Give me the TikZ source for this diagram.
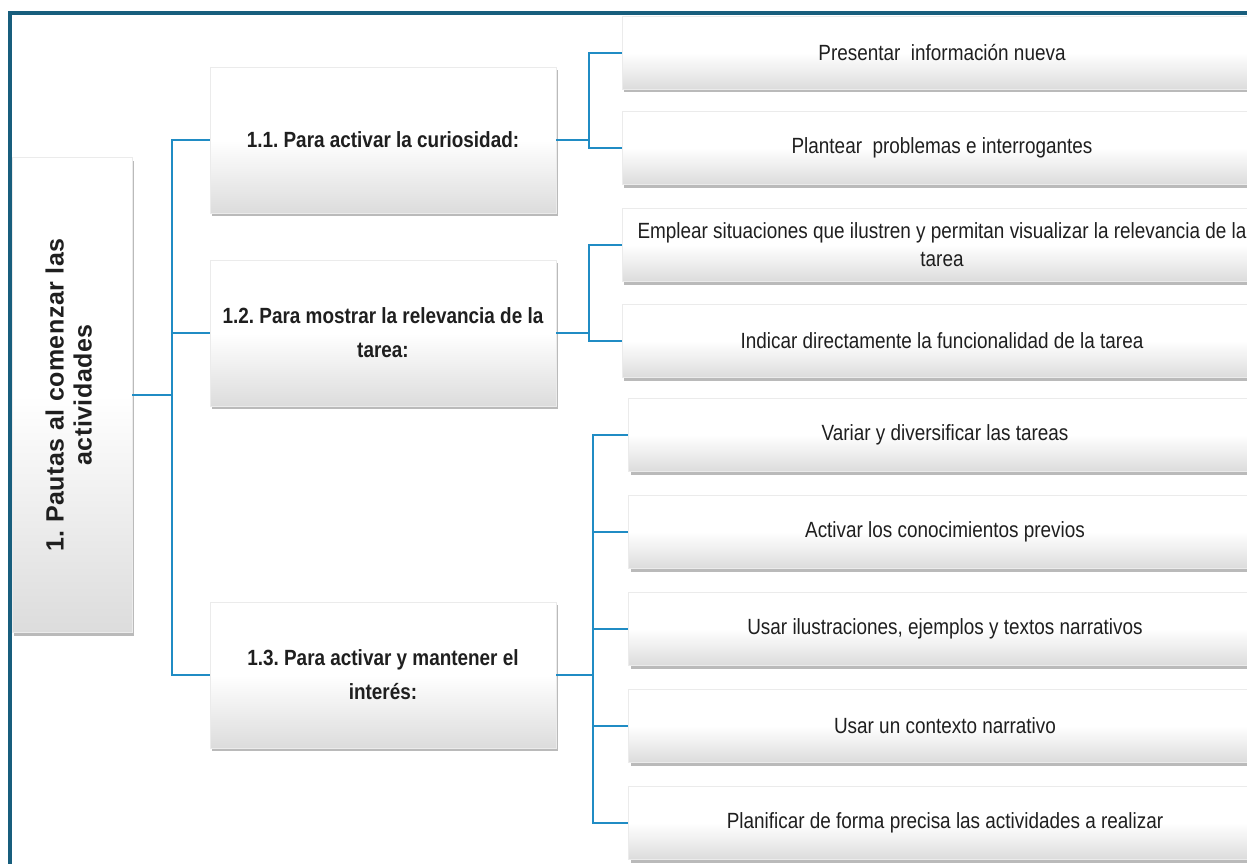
\documentclass[tikz,border=0pt]{standalone}
\usepackage{fontspec}
\setmainfont[FakeStretch=0.86]{Liberation Sans}
\newfontfamily\rootfont[LetterSpace=2]{Liberation Sans}
\usetikzlibrary{positioning,shadows}
\definecolor{framecol}{RGB}{24,94,125}
\definecolor{linkcol}{RGB}{32,140,196}
\definecolor{boxgray}{RGB}{220,220,220}
\frenchspacing
\tikzset{
  card/.style={rectangle, draw=black!8, top color=white, bottom color=boxgray, middle color=white,
    drop shadow={shadow xshift=2pt, shadow yshift=-3pt, fill=black!45, opacity=0.6},
    inner sep=4pt, text=black!88, align=center},
  rootbox/.style={card, minimum width=120pt, minimum height=475pt, font=\rootfont\bfseries\fontsize{25}{28}\selectfont},
  headbox/.style={card, minimum width=346pt, minimum height=146pt, font=\bfseries\fontsize{22}{34}\selectfont},
  itembox/.style={card, minimum width=640pt, minimum height=73pt, font=\fontsize{22}{28}\selectfont},
  link/.style={draw=linkcol, line width=2pt}
}
\begin{document}
\begin{tikzpicture}[x=1pt,y=-1pt,on grid,node distance=97pt]
\useasboundingbox (0,0) rectangle (1247,864);
\draw[framecol, line width=4.5pt] (10,870) |- (1250,13);
\node[rootbox](0) at (72,395) {\rotatebox{90}{\begin{tabular}{@{}c@{}}1. Pautas al comenzar las\\actividades\end{tabular}}};
\node[headbox](1) at (383,140) {1.1. Para activar la curiosidad:};
\node[headbox](2) at (383,333) {1.2. Para mostrar la relevancia de la\\tarea:};
\node[headbox](3) at (383,675) {1.3. Para activar y mantener el\\interés:};
\node[itembox](11) at (942,53) {Presentar\ \ información nueva};
\node[itembox,node distance=95pt](12) [below=of 11] {Plantear\ \ problemas e interrogantes};
\node[itembox](21) at (942,245) {Emplear situaciones que ilustren y permitan visualizar la relevancia de la\\tarea};
\node[itembox,node distance=96pt](22) [below=of 21] {Indicar directamente la funcionalidad de la tarea};
\node[itembox, minimum width=633pt](31) at (945,435) {Variar y diversificar las tareas};
\node[itembox, minimum width=633pt](32) [below=of 31] {Activar los conocimientos previos};
\node[itembox, minimum width=633pt](33) [below=of 32] {Usar ilustraciones, ejemplos y textos narrativos};
\node[itembox, minimum width=633pt](34) [below=of 33] {Usar un contexto narrativo};
\node[itembox, minimum width=633pt](35) [below=of 34] {Planificar de forma precisa las actividades a realizar};
\foreach \n in {1,2,3} \draw[link] (0.east) -- ++(40,0) |- (\n.west);
\foreach \n in {11,12} \draw[link] (1.east) -- ++(33,0) |- (\n.west);
\foreach \n in {21,22} \draw[link] (2.east) -- ++(33,0) |- (\n.west);
\foreach \n in {31,...,35} \draw[link] (3.east) -- ++(37,0) |- (\n.west);
\end{tikzpicture}
\end{document}
